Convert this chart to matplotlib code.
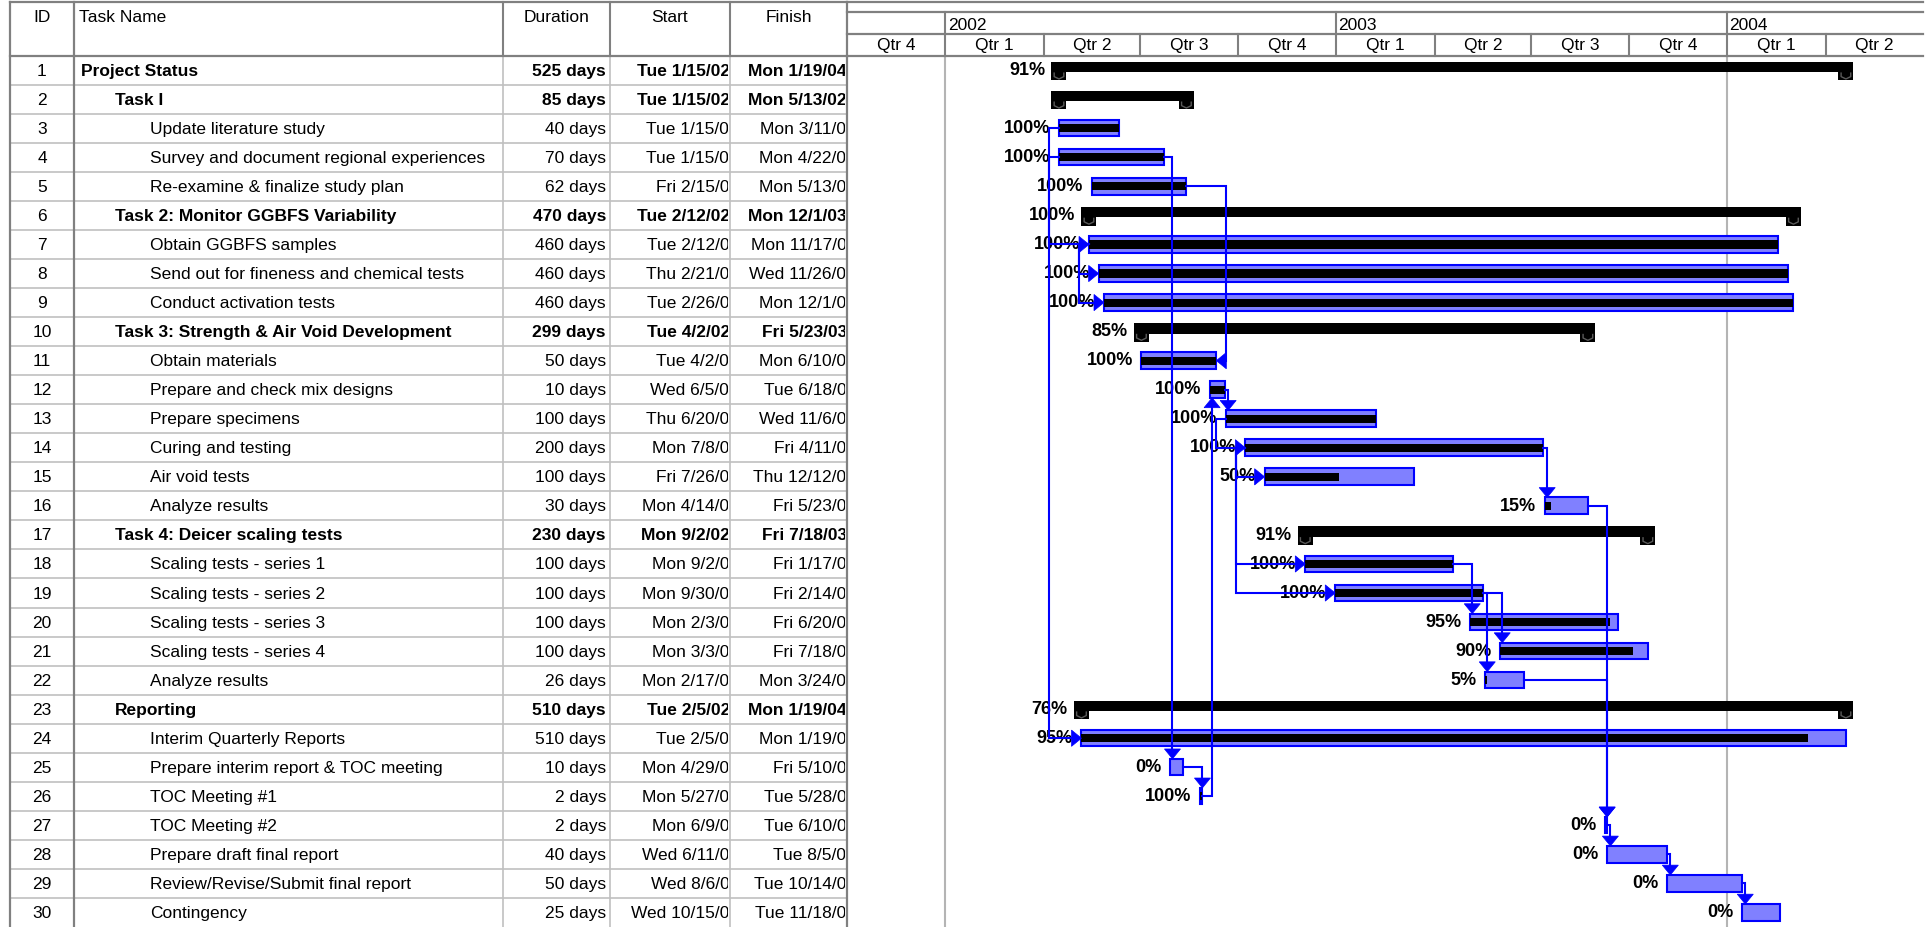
import pandas as pd
import matplotlib
matplotlib.use("Agg")
import matplotlib.pyplot as plt
import matplotlib.dates as mdates
from matplotlib.patches import Rectangle, Polygon
from matplotlib import font_manager

# ---- task table data ----
task_names = [
    "Project Status", "Task I", "Update literature study",
    "Survey and document regional experiences", "Re-examine & finalize study plan",
    "Task 2: Monitor GGBFS Variability", "Obtain GGBFS samples",
    "Send out for fineness and chemical tests", "Conduct activation tests",
    "Task 3: Strength & Air Void Development", "Obtain materials",
    "Prepare and check mix designs", "Prepare specimens", "Curing and testing",
    "Air void tests", "Analyze results", "Task 4: Deicer scaling tests",
    "Scaling tests - series 1", "Scaling tests - series 2", "Scaling tests - series 3",
    "Scaling tests - series 4", "Analyze results", "Reporting",
    "Interim Quarterly Reports", "Prepare interim report & TOC meeting",
    "TOC Meeting #1", "TOC Meeting #2", "Prepare draft final report",
    "Review/Revise/Submit final report", "Contingency",
]
outline_level = [0, 1, 2, 2, 2, 1, 2, 2, 2, 1, 2, 2, 2, 2, 2, 2, 1,
                 2, 2, 2, 2, 2, 1, 2, 2, 2, 2, 2, 2, 2]
duration_days = [525, 85, 40, 70, 62, 470, 460, 460, 460, 299, 50, 10, 100, 200, 100,
                 30, 230, 100, 100, 100, 100, 26, 510, 510, 10, 2, 2, 40, 50, 25]
start_dates = ["2002-01-15", "2002-01-15", "2002-01-15", "2002-01-15", "2002-02-15",
               "2002-02-12", "2002-02-12", "2002-02-21", "2002-02-26",
               "2002-04-02", "2002-04-02", "2002-06-05", "2002-06-20", "2002-07-08",
               "2002-07-26", "2003-04-14", "2002-09-02", "2002-09-02", "2002-09-30",
               "2003-02-03", "2003-03-03", "2003-02-17", "2002-02-05", "2002-02-05",
               "2002-04-29", "2002-05-27", "2003-06-09", "2003-06-11", "2003-08-06",
               "2003-10-15"]
finish_dates = ["2004-01-19", "2002-05-13", "2002-03-11", "2002-04-22", "2002-05-13",
                "2003-12-01", "2003-11-17", "2003-11-26", "2003-12-01",
                "2003-05-23", "2002-06-10", "2002-06-18", "2002-11-06", "2003-04-11",
                "2002-12-12", "2003-05-23", "2003-07-18", "2003-01-17", "2003-02-14",
                "2003-06-20", "2003-07-18", "2003-03-24", "2004-01-19", "2004-01-19",
                "2002-05-10", "2002-05-28", "2003-06-10", "2003-08-05", "2003-10-14",
                "2003-11-18"]
pct_complete = [91, None, 100, 100, 100, 100, 100, 100, 100, 85, 100, 100, 100, 100, 50,
                15, 91, 100, 100, 95, 90, 5, 76, 95, 0, 100, 0, 0, 0, 0]

# dependencies (predecessor id, successor id)
links_ss = [(3, 7), (4, 24), (7, 8), (7, 9), (13, 14), (14, 15), (14, 18), (14, 19)]
links_fs = [(4, 25), (25, 26), (26, 12), (12, 13), (14, 16), (16, 27), (22, 27),
            (27, 28), (28, 29), (29, 30), (18, 20), (19, 21), (19, 22)]
links_ff = [(5, 11)]

# timescale header
quarter_labels = ["Qtr 4", "Qtr 1", "Qtr 2", "Qtr 3", "Qtr 4", "Qtr 1", "Qtr 2",
                  "Qtr 3", "Qtr 4", "Qtr 1", "Qtr 2"]
year_labels = ["2002", "2003", "2004"]
year_first_quarter = [1, 5, 9]
grid_quarters = [1, 9]
view_start, view_end = "2001-07-01", "2004-04-01"

# ---- layout (figure pixels) ----
W, H = 1933, 928
TOP, HEAD_BOT = 2.7, 56.7
ROW_H = (H - HEAD_BOT) / 30
GX0, GX1 = 847, 1923
col_edges = [10, 74, 503, 610, 730, 847]
indent = [81, 115, 150]
y_top = 0.5 - (HEAD_BOT - TOP) / ROW_H
y_band = 0.5 - (HEAD_BOT - 12.7) / ROW_H
y_qtr = 0.5 - (HEAD_BOT - 35) / ROW_H

DARK, LIGHT, BLUE, FILL = "#808080", "#C0C0C0", "#0000FF", "#8080FF"

names_avail = {f.name for f in font_manager.fontManager.ttflist}
if "Liberation Sans Narrow" in names_avail:
    plt.rcParams["font.family"] = ["Liberation Sans Narrow", "DejaVu Sans"]
    FS, FSP = 14.5, 15
else:
    plt.rcParams["font.family"] = ["Liberation Sans", "DejaVu Sans"]
    FS, FSP = 12.5, 13

fig = plt.figure(figsize=(W / 100, H / 100), dpi=100)
fig.patch.set_facecolor("white")

ax_t = fig.add_axes([0, 0, GX0 / W, (H - TOP) / H])
ax_t.set_xlim(0, GX0)
ax_t.set_ylim(30.5, y_top)
ax_t.axis("off")

ax_g = fig.add_axes([GX0 / W, 0, (GX1 - GX0) / W, (H - TOP) / H])
ax_g.set_xlim(mdates.datestr2num(view_start), mdates.datestr2num(view_end))
ax_g.set_ylim(30.5, y_top)
ax_g.axis("off")

# ---- table grid ----
for r in range(1, 30):
    ax_t.plot([col_edges[0], col_edges[-1]], [r + 0.5, r + 0.5], color=LIGHT, lw=1.2,
              clip_on=False)
for x in col_edges[2:5]:
    ax_t.plot([x, x], [y_top, 0.5], color=DARK, lw=1.5, clip_on=False)
    ax_t.plot([x, x], [0.5, 30.5], color=LIGHT, lw=1.2, clip_on=False)
for x in [col_edges[0], col_edges[1], col_edges[-1]]:
    ax_t.plot([x, x], [y_top, 30.5], color=DARK, lw=1.6, clip_on=False)
for y in [y_top, 0.5]:
    ax_t.plot([col_edges[0], col_edges[-1]], [y, y], color=DARK, lw=1.6, clip_on=False)

hy = y_top + 0.5
ax_t.text((col_edges[0] + col_edges[1]) / 2, hy, "ID", ha="center", va="center", fontsize=FS)
ax_t.text(col_edges[1] + 5, hy, "Task Name", ha="left", va="center", fontsize=FS)
for k, lab in zip([2, 3, 4], ["Duration", "Start", "Finish"]):
    ax_t.text((col_edges[k] + col_edges[k + 1]) / 2, hy, lab, ha="center", va="center",
              fontsize=FS)


def date_label(d):
    d = pd.Timestamp(d)
    return f"{d:%a} {d.month}/{d.day}/{d:%y}"


for i, name in enumerate(task_names):
    row = i + 1
    bold = "bold" if outline_level[i] < 2 else "normal"
    ax_t.text((col_edges[0] + col_edges[1]) / 2, row, str(row), ha="center", va="center",
              fontsize=FS)
    ax_t.text(indent[outline_level[i]], row, name, ha="left", va="center", fontsize=FS,
              weight=bold)
    ax_t.text(col_edges[3] - 4, row, f"{duration_days[i]} days", ha="right", va="center",
              fontsize=FS, weight=bold)
    for k, d in [(3, start_dates[i]), (4, finish_dates[i])]:
        over = 0 if bold == "bold" else 9
        t = ax_t.text(col_edges[k + 1] + over, row, date_label(d), ha="right",
                      va="center", fontsize=FS, weight=bold, clip_on=True)
        clip = Rectangle((col_edges[k] + 1, row - 0.5), col_edges[k + 1] - col_edges[k] - 3,
                         1, transform=ax_t.transData)
        t.set_clip_path(clip)

# ---- timescale header ----
qb = [mdates.date2num(d) for d in pd.date_range(view_start, periods=12, freq="QS")]
for y in [y_top, y_band, y_qtr, 0.5]:
    ax_g.plot([qb[0], qb[-1]], [y, y], color=DARK, lw=1.6, clip_on=False)
for j in range(1, 11):
    ax_g.plot([qb[j], qb[j]], [y_qtr, 0.5], color=DARK, lw=1.5, clip_on=False)
for j, lab in enumerate(quarter_labels):
    ax_g.text((qb[j] + qb[j + 1]) / 2, (y_qtr + 0.5) / 2, lab, ha="center", va="center",
              fontsize=FS)
for q, lab in zip(year_first_quarter, year_labels):
    ax_g.plot([qb[q], qb[q]], [y_band, y_qtr], color=DARK, lw=1.5, clip_on=False)
    ax_g.text(qb[q] + 2, (y_band + y_qtr) / 2 + 0.05, lab, ha="left", va="center",
              fontsize=FS)
for q in grid_quarters:
    ax_g.plot([qb[q], qb[q]], [0.5, 30.5], color="#B4B4B4", lw=1.5, zorder=0)

# ---- bars ----
CAP_W = 14
starts = [mdates.datestr2num(d) for d in start_dates]
ends = [mdates.datestr2num(d) + 1 for d in finish_dates]
for i in range(len(task_names)):
    row = i + 1
    s, e = starts[i], ends[i]
    label_x = s - 8
    if outline_level[i] < 2:
        # summary bar with end caps centred on the start / finish dates
        ax_g.add_patch(Rectangle((s - CAP_W / 2, row - 0.29), e - s + CAP_W, 0.36,
                                 fc="black", ec="none", zorder=2))
        for cx in [s - CAP_W / 2, e - CAP_W / 2]:
            ax_g.add_patch(Rectangle((cx, row - 0.29), CAP_W, 0.64, fc="black", ec="none",
                                     zorder=2))
            ax_g.plot([cx + 2.5, cx + 2.5, cx + CAP_W / 2, cx + CAP_W - 2.5, cx + CAP_W - 2.5],
                      [row + 0.1, row + 0.22, row + 0.3, row + 0.22, row + 0.1],
                      color="#5A5A5A", lw=1, zorder=3)
        label_x = s - CAP_W / 2 - 6
    else:
        ax_g.add_patch(Rectangle((s, row - 0.29), e - s, 0.57, fc=FILL, ec=BLUE, lw=1.5,
                                 zorder=2))
        if pct_complete[i]:
            ax_g.add_patch(Rectangle((s, row - 0.14), (e - s) * pct_complete[i] / 100, 0.28,
                                     fc="black", ec="none", zorder=3))
    if pct_complete[i] is not None:
        ax_g.text(label_x, row - 0.03, f"{pct_complete[i]}%", ha="right", va="center",
                  fontsize=FSP, weight="bold", zorder=4)

# ---- dependency links ----
AW, AH = 7.5, 0.34      # half width (days) / length (rows) of vertical arrows
AL, AHW = 9.3, 0.28     # length (days) / half height (rows) of horizontal arrows
STUB = 9


def arrow(tx, ty, direction):
    if direction == "down":
        pts = [(tx, ty), (tx - AW, ty - AH), (tx + AW, ty - AH)]
    elif direction == "up":
        pts = [(tx, ty), (tx - AW, ty + AH), (tx + AW, ty + AH)]
    elif direction == "right":
        pts = [(tx, ty), (tx - AL, ty - AHW), (tx - AL, ty + AHW)]
    else:
        pts = [(tx, ty), (tx + AL, ty - AHW), (tx + AL, ty + AHW)]
    ax_g.add_patch(Polygon(pts, closed=True, fc=BLUE, ec=BLUE, lw=0.5, zorder=6))


def link_line(xs, ys):
    ax_g.plot(xs, ys, color=BLUE, lw=1.5, zorder=5, solid_joinstyle="miter")


for a, b in links_ss:
    xv = starts[a - 1] - STUB
    link_line([starts[a - 1], xv, xv, starts[b - 1] - AL], [a, a, b, b])
    arrow(starts[b - 1], b, "right")

for a, b in links_fs:
    xv = max(starts[b - 1] + 2, ends[a - 1] + 3)
    if b > a:
        link_line([ends[a - 1], xv, xv], [a, a, b - 0.29 - AH])
        arrow(xv, b - 0.29, "down")
    else:
        link_line([ends[a - 1], xv, xv], [a, a, b + 0.28 + AH])
        arrow(xv, b + 0.28, "up")

for a, b in links_ff:
    xv = max(ends[a - 1], ends[b - 1]) + STUB
    link_line([ends[a - 1], xv, xv, ends[b - 1] + AL], [a, a, b, b])
    arrow(ends[b - 1], b, "left")

fig.savefig("out.png", dpi=100, facecolor="white")
